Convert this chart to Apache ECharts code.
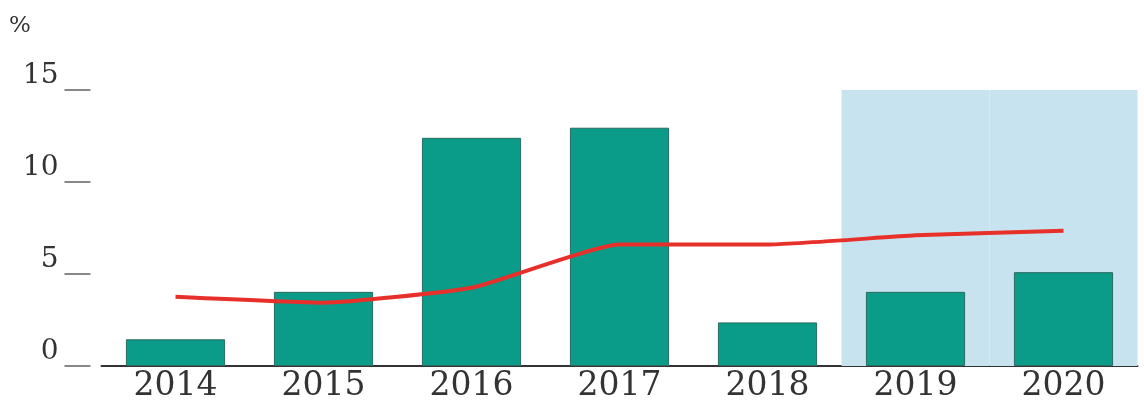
<!DOCTYPE html>
<html>
<head>
<meta charset="utf-8">
<script src="https://cdn.jsdelivr.net/npm/echarts@6/dist/echarts.min.js"></script>
<style>html,body{margin:0;padding:0;background:#fff}#c{width:1144px;height:403px}</style>
</head>
<body>
<div id="c"></div>
<script>
const years = ['2014', '2015', '2016', '2017', '2018', '2019', '2020'];
const barValues = [1.45, 4.03, 12.4, 12.95, 2.37, 4.03, 5.1];
const lineValues = [3.76, 3.44, 4.25, 6.6, 6.6, 7.1, 7.35];
const shadeValues = [null, null, null, null, null, 15, 15];
const yTicks = [0, 5, 10, 15];

const chart = echarts.init(document.getElementById('c'));
chart.setOption({
  animation: false,
  backgroundColor: '#fff',
  graphic: [{
    type: 'text', left: 9, top: 15,
    style: { text: '%', font: '23px "DejaVu Serif"', fill: '#333' }
  }],
  grid: { left: 101.5, right: 6.5, top: 90, bottom: 34 },
  xAxis: [{
    type: 'category', data: years,
    axisLine: { lineStyle: { color: '#333', width: 2 } },
    axisTick: { show: false },
    axisLabel: { fontFamily: 'DejaVu Serif', fontSize: 33, color: '#333', margin: 4 }
  }, {
    type: 'category', data: years, show: false
  }],
  yAxis: {
    type: 'value', min: yTicks[0], max: yTicks[yTicks.length - 1], interval: 5,
    offset: 11,
    axisLine: { show: false },
    axisTick: { show: true, length: 26, lineStyle: { color: '#888', width: 2 } },
    splitLine: { show: false },
    axisLabel: { fontFamily: 'DejaVu Serif', fontSize: 28, color: '#333', margin: 32, verticalAlign: 'bottom' }
  },
  series: [{
    type: 'bar', xAxisIndex: 1, data: shadeValues, barWidth: '100%', z: 1,
    itemStyle: { color: '#c7e3ef' }, silent: true
  }, {
    type: 'bar', data: barValues, barWidth: '67%', z: 2,
    itemStyle: { color: '#0a9b89', borderColor: '#2a6b60', borderWidth: 1 }
  }, {
    type: 'line', data: lineValues, smooth: 0.15, symbol: 'none', z: 3,
    lineStyle: { color: '#e8302a', width: 4 }
  }]
});
</script>
</body>
</html>
